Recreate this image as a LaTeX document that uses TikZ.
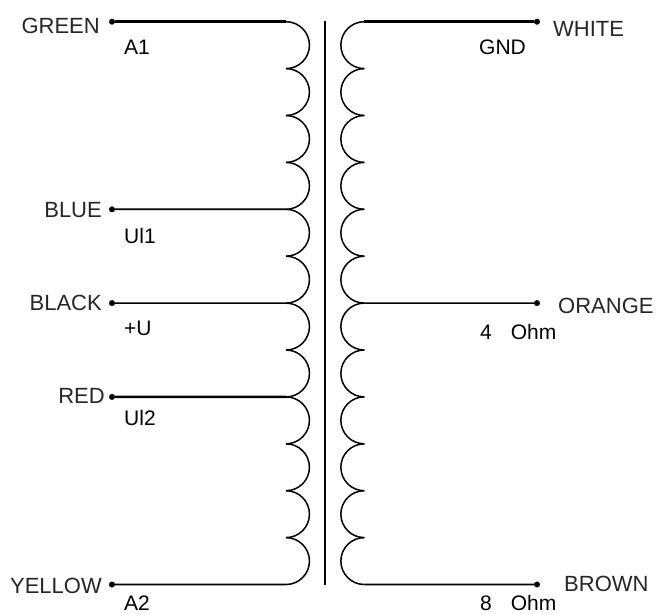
\documentclass[tikz,border=0pt]{standalone}
\usepackage{fontspec}
\setmainfont{Liberation Sans}
\usetikzlibrary{positioning, calc}

\tikzset{
	terminal/.style={draw, circle, fill=black, inner sep=0pt, minimum size=5.5pt},
	wire/.style={line width=1.7pt},
	heavywire/.style={line width=2.6pt},
	coil/.style={line width=1.5pt},
	colorname/.style={inner sep=0pt, font=\fontsize{22}{22}\selectfont, text=black!85},
	tapname/.style={inner sep=0pt, anchor=base west, font=\fontsize{21}{21}\selectfont}
}

\begin{document}
\begin{tikzpicture}[x=1pt, y=-1pt]
		\useasboundingbox (0,0) rectangle (656,614);
		
		%Windings
		\foreach \n in {0,...,12} {
			\coordinate (prim\n) at (286,{21.7+46.9*\n});
			\coordinate (sec\n) at (364.3,{21.7+46.9*\n});
		}
		\foreach \n in {0,...,11} {
			\draw[coil] (prim\n) arc (90:-90:23.45pt);
			\draw[coil] (sec\n) arc (90:270:23.45pt);
		}
		
		%Core
		\coordinate (coretop) at (325,21);
		\coordinate (corebottom) at (325,585);
		\draw[line width=2pt] (coretop) -- (corebottom);
		
		%Terminals
		\node (green) at (112,21.7) [terminal]{};
		\node (blue) at (112,209.3) [terminal]{};
		\node (black) at (112,303.1) [terminal]{};
		\node (red) at (112,396.9) [terminal]{};
		\node (yellow) at (112,584.5) [terminal]{};
		\node (white) at (537,21.7) [terminal]{};
		\node (orange) at (537,303.1) [terminal]{};
		\node (brown) at (537,584.5) [terminal]{};
		
		%Leads
		\draw[heavywire] (green) -- (prim0);
		\draw[wire] (blue) -- (prim4);
		\draw[wire] (black) -- (prim6);
		\draw[heavywire] (red) -- (prim8);
		\draw[wire] (yellow) -- (prim12);
		\draw[heavywire] (white) -- (sec0);
		\draw[wire] (orange) -- (sec6);
		\draw[wire] (brown) -- (sec12);
		
		%Colour names
		\node (greenname) at (100,33) [colorname, anchor=base east]{GREEN};
		\node (bluename) at (102,217) [colorname, anchor=base east]{BLUE};
		\node (blackname) at (102,310) [colorname, anchor=base east]{BLACK};
		\node (redname) at (105,403) [colorname, anchor=base east]{RED};
		\node (yellowname) at (102,593) [colorname, anchor=base east]{YELLOW};
		\node (whitename) at (553,36) [colorname, anchor=base west]{WHITE};
		\node (orangename) at (558,313) [colorname, anchor=base west]{ORANGE};
		\node (brownname) at (564,591) [colorname, anchor=base west]{BROWN};
		
		%Tap names
		\node (a1) at (124,54) [tapname]{A1};
		\node (ul1) at (124,243) [tapname]{Ul1};
		\node (plusu) at (124,335) [tapname]{+U};
		\node (ul2) at (124,425) [tapname]{Ul2};
		\node (a2) at (124,610) [tapname]{A2};
		\node (gnd) at (479,54) [tapname]{GND};
		\node (ohm4) at (480,339) [tapname]{4\hspace{19pt}Ohm};
		\node (ohm8) at (480,610) [tapname]{8\hspace{19pt}Ohm};
		\end{tikzpicture}
\end{document}
